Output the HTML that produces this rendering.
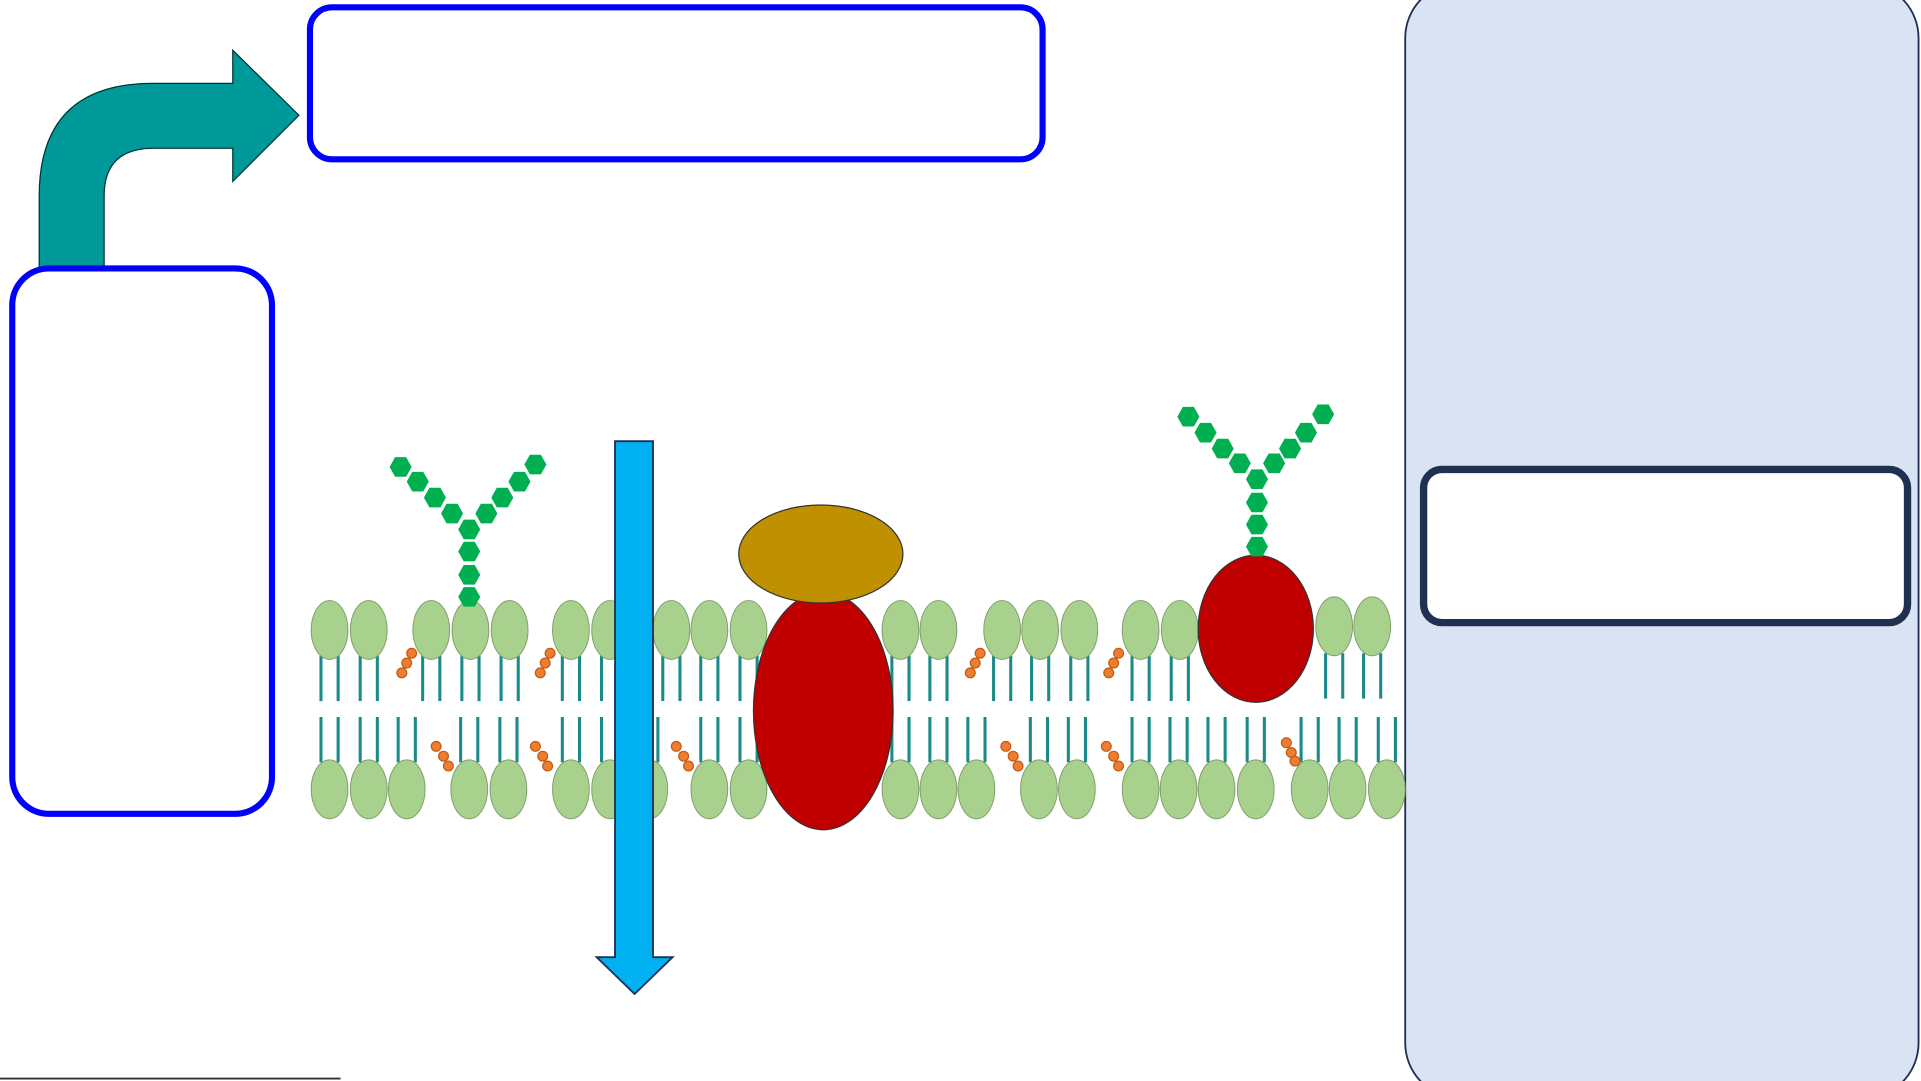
<!DOCTYPE html>
<html><head><meta charset="utf-8"><style>html,body{margin:0;padding:0;background:#fff;overflow:hidden}svg{display:block}</style></head>
<body>
<svg width="1921" height="1081" viewBox="0 0 1568 882" preserveAspectRatio="none" xmlns="http://www.w3.org/2000/svg">
<defs>
<g id="hx"><polygon points="-9,0 -4.5,-8 4.5,-8 9,0 4.5,8 -4.5,8" fill="#00b050"/></g>
<g id="th"><line x1="-7" y1="0" x2="-7" y2="37" stroke="#1a8a8a" stroke-width="2.5"/><line x1="7" y1="0" x2="7" y2="37" stroke="#1a8a8a" stroke-width="2.5"/></g>
</defs>
<rect width="1568" height="882" fill="#fff"/>
<rect x="1147" y="-14" width="419" height="910" rx="45" fill="#dae3f3" stroke="#1f3050" stroke-width="1.5"/>
<rect x="1162" y="383" width="395" height="125" rx="15" fill="#fff" stroke="#1f3050" stroke-width="6"/>
<path d="M32,218 L32,160 Q32,68 125,68 L190,68 L190,41 L244,94 L190,148 L190,121 L125,121 Q85,121 85,160 L85,218 Z" fill="#009999" stroke="#003333" stroke-width="1"/>
<rect x="253" y="6" width="598" height="124" rx="18" fill="#fff" stroke="#0000ff" stroke-width="5"/>
<rect x="10" y="219" width="212" height="445" rx="30" fill="#fff" stroke="#0000ff" stroke-width="5"/>
<g>
<use href="#th" x="269" y="535"/><use href="#th" x="301" y="535"/><use href="#th" x="352" y="535"/><use href="#th" x="384" y="535"/><use href="#th" x="416" y="535"/><use href="#th" x="466" y="535"/><use href="#th" x="498" y="535"/><use href="#th" x="548" y="535"/><use href="#th" x="579" y="535"/><use href="#th" x="611" y="535"/><use href="#th" x="735" y="535"/><use href="#th" x="766" y="535"/><use href="#th" x="818" y="535"/><use href="#th" x="849" y="535"/><use href="#th" x="881" y="535"/><use href="#th" x="931" y="535"/><use href="#th" x="963" y="535"/><use href="#th" x="1089" y="533"/><use href="#th" x="1120" y="533"/>
<use href="#th" x="269" y="585"/><use href="#th" x="301" y="585"/><use href="#th" x="332" y="585"/><use href="#th" x="383" y="585"/><use href="#th" x="415" y="585"/><use href="#th" x="466" y="585"/><use href="#th" x="498" y="585"/><use href="#th" x="530" y="585"/><use href="#th" x="579" y="585"/><use href="#th" x="611" y="585"/><use href="#th" x="735" y="585"/><use href="#th" x="766" y="585"/><use href="#th" x="797" y="585"/><use href="#th" x="848" y="585"/><use href="#th" x="879" y="585"/><use href="#th" x="931" y="585"/><use href="#th" x="962" y="585"/><use href="#th" x="993" y="585"/><use href="#th" x="1025" y="585"/><use href="#th" x="1069" y="585"/><use href="#th" x="1100" y="585"/><use href="#th" x="1132" y="585"/>
</g>
<g fill="#ed7d31" stroke="#c55a11" stroke-width="1">
<circle cx="336" cy="533" r="4"/><circle cx="332" cy="541" r="4"/><circle cx="328" cy="549" r="4"/>
<circle cx="449" cy="533" r="4"/><circle cx="445" cy="541" r="4"/><circle cx="441" cy="549" r="4"/>
<circle cx="800" cy="533" r="4"/><circle cx="796" cy="541" r="4"/><circle cx="792" cy="549" r="4"/>
<circle cx="913" cy="533" r="4"/><circle cx="909" cy="541" r="4"/><circle cx="905" cy="549" r="4"/>
<circle cx="356" cy="609" r="4"/><circle cx="362" cy="617" r="4"/><circle cx="366" cy="625" r="4"/>
<circle cx="437" cy="609" r="4"/><circle cx="443" cy="617" r="4"/><circle cx="447" cy="625" r="4"/>
<circle cx="552" cy="609" r="4"/><circle cx="558" cy="617" r="4"/><circle cx="562" cy="625" r="4"/>
<circle cx="821" cy="609" r="4"/><circle cx="827" cy="617" r="4"/><circle cx="831" cy="625" r="4"/>
<circle cx="903" cy="609" r="4"/><circle cx="909" cy="617" r="4"/><circle cx="913" cy="625" r="4"/>
<circle cx="1050" cy="606" r="4"/><circle cx="1054" cy="614" r="4"/><circle cx="1057" cy="621" r="4"/>
</g>
<g fill="#a9d18e" stroke="#7f9f6a" stroke-width="0.8">
<ellipse cx="269" cy="514" rx="15" ry="24"/><ellipse cx="301" cy="514" rx="15" ry="24"/><ellipse cx="352" cy="514" rx="15" ry="24"/><ellipse cx="384" cy="514" rx="15" ry="24"/><ellipse cx="416" cy="514" rx="15" ry="24"/><ellipse cx="466" cy="514" rx="15" ry="24"/><ellipse cx="498" cy="514" rx="15" ry="24"/><ellipse cx="548" cy="514" rx="15" ry="24"/><ellipse cx="579" cy="514" rx="15" ry="24"/><ellipse cx="611" cy="514" rx="15" ry="24"/><ellipse cx="735" cy="514" rx="15" ry="24"/><ellipse cx="766" cy="514" rx="15" ry="24"/><ellipse cx="818" cy="514" rx="15" ry="24"/><ellipse cx="849" cy="514" rx="15" ry="24"/><ellipse cx="881" cy="514" rx="15" ry="24"/><ellipse cx="931" cy="514" rx="15" ry="24"/><ellipse cx="963" cy="514" rx="15" ry="24"/><ellipse cx="1089" cy="511" rx="15" ry="24"/><ellipse cx="1120" cy="511" rx="15" ry="24"/>
<ellipse cx="269" cy="644" rx="15" ry="24"/><ellipse cx="301" cy="644" rx="15" ry="24"/><ellipse cx="332" cy="644" rx="15" ry="24"/><ellipse cx="383" cy="644" rx="15" ry="24"/><ellipse cx="415" cy="644" rx="15" ry="24"/><ellipse cx="466" cy="644" rx="15" ry="24"/><ellipse cx="498" cy="644" rx="15" ry="24"/><ellipse cx="530" cy="644" rx="15" ry="24"/><ellipse cx="579" cy="644" rx="15" ry="24"/><ellipse cx="611" cy="644" rx="15" ry="24"/><ellipse cx="735" cy="644" rx="15" ry="24"/><ellipse cx="766" cy="644" rx="15" ry="24"/><ellipse cx="797" cy="644" rx="15" ry="24"/><ellipse cx="848" cy="644" rx="15" ry="24"/><ellipse cx="879" cy="644" rx="15" ry="24"/><ellipse cx="931" cy="644" rx="15" ry="24"/><ellipse cx="962" cy="644" rx="15" ry="24"/><ellipse cx="993" cy="644" rx="15" ry="24"/><ellipse cx="1025" cy="644" rx="15" ry="24"/><ellipse cx="1069" cy="644" rx="15" ry="24"/><ellipse cx="1100" cy="644" rx="15" ry="24"/><ellipse cx="1132" cy="644" rx="15" ry="24"/>
</g>
<path d="M502,360 L533,360 L533,781 L549,781 L518,811 L487,781 L502,781 Z" fill="#00b0f0" stroke="#1f3050" stroke-width="1.5"/>
<ellipse cx="672" cy="580" rx="57" ry="97" fill="#c00000" stroke="#333" stroke-width="1"/>
<ellipse cx="670" cy="452" rx="67" ry="40" fill="#bf9000" stroke="#333" stroke-width="1"/>
<ellipse cx="1025" cy="513" rx="47" ry="60" fill="#c00000" stroke="#333" stroke-width="1"/>
<g>
<use href="#hx" x="383" y="487"/><use href="#hx" x="383" y="469"/><use href="#hx" x="383" y="450"/><use href="#hx" x="383" y="432"/>
<use href="#hx" x="369" y="419"/><use href="#hx" x="355" y="406"/><use href="#hx" x="341" y="393"/><use href="#hx" x="327" y="381"/>
<use href="#hx" x="397" y="419"/><use href="#hx" x="410" y="406"/><use href="#hx" x="424" y="393"/><use href="#hx" x="437" y="379"/>
<use href="#hx" x="1026" y="446"/><use href="#hx" x="1026" y="428"/><use href="#hx" x="1026" y="410"/><use href="#hx" x="1026" y="391"/>
<use href="#hx" x="1012" y="378"/><use href="#hx" x="998" y="366"/><use href="#hx" x="984" y="353"/><use href="#hx" x="970" y="340"/>
<use href="#hx" x="1040" y="378"/><use href="#hx" x="1053" y="366"/><use href="#hx" x="1066" y="353"/><use href="#hx" x="1080" y="338"/>
</g>
<line x1="0" y1="880" x2="278" y2="880" stroke="#333" stroke-width="1.5"/>
</svg>
</body></html>
